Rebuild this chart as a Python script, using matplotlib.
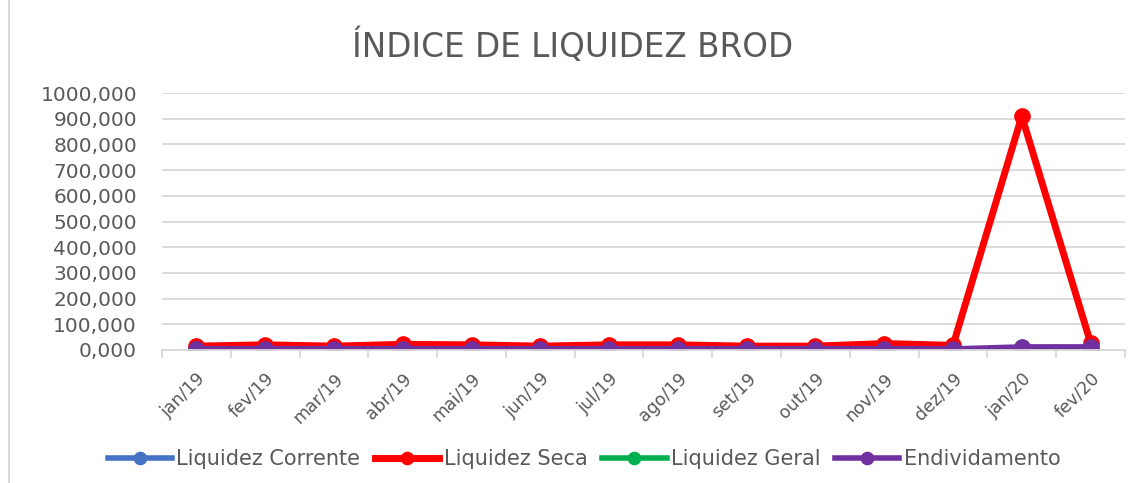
import numpy as np
import matplotlib.pyplot as plt
from matplotlib.ticker import FuncFormatter, FixedLocator

months = ['jan/19', 'fev/19', 'mar/19', 'abr/19', 'mai/19', 'jun/19', 'jul/19',
          'ago/19', 'set/19', 'out/19', 'nov/19', 'dez/19', 'jan/20', 'fev/20']
liq_corrente = [2, 2, 2, 2, 2, 2, 2, 2, 2, 2, 2, 2, 3, 3]
liq_seca = [15, 20, 15, 22, 20, 15, 20, 20, 15, 15, 25, 18, 910, 28]
liq_geral = [1, 1, 1, 1, 1, 1, 1, 1, 1, 1, 1, 1, 2, 2]
endividamento = [5, 5, 5, 5, 5, 5, 5, 5, 5, 5, 5, 4, 12, 12]

series = [
    ('Liquidez Corrente', liq_corrente, '#4472c4'),
    ('Liquidez Seca', liq_seca, '#ff0000'),
    ('Liquidez Geral', liq_geral, '#00b050'),
    ('Endividamento', endividamento, '#7030a0'),
]

plt.rcParams['font.family'] = ['DejaVu Sans']
fig = plt.figure(figsize=(11.45, 4.83), dpi=100)
ax = fig.add_axes([0.1415, 0.2754, 0.841, 0.532])

x = np.arange(len(months))
for name, vals, color in series:
    lw = 5 if name == 'Liquidez Seca' else 4
    ax.plot(x, vals, color=color, lw=lw, marker='o', markersize=11,
            solid_joinstyle='round', label=name)

ax.set_xlim(-0.5, len(months) - 0.5)
ax.set_ylim(0, 1000)
ax.set_yticks(np.arange(0, 1001, 100))
ax.yaxis.set_major_formatter(FuncFormatter(lambda v, p: f'{int(v)},000'))
ax.grid(axis='y', color='#d9d9d9', lw=1.3)
ax.set_axisbelow(True)

ax.set_xticks(x)
ax.set_xticklabels(months, rotation=45, ha='right', rotation_mode='anchor')
ax.xaxis.set_minor_locator(FixedLocator(np.arange(-0.5, len(months), 1)))
ax.tick_params(axis='x', which='major', length=0, pad=14, labelsize=12.5, colors='#595959')
ax.tick_params(axis='x', which='minor', length=6, color='#d9d9d9', width=1.3)
ax.tick_params(axis='y', length=0, labelsize=14.5, colors='#595959', pad=18)

for s in ['top', 'right', 'left']:
    ax.spines[s].set_visible(False)
ax.spines['bottom'].set_color('#d9d9d9')
ax.spines['bottom'].set_linewidth(1.3)

fig.suptitle('ÍNDICE DE LIQUIDEZ BROD', y=0.94, fontsize=23.5, color='#595959')

fig.legend(loc='center', bbox_to_anchor=(0.51, 0.05), ncol=4, frameon=False,
           fontsize=15, handlelength=3.1, handletextpad=0.2, columnspacing=0.7,
           markerscale=0.8, labelcolor='#595959')

fig.add_artist(plt.Line2D([0.008, 0.008], [0, 1], color='#d9d9d9', lw=1.5,
                          transform=fig.transFigure))

fig.savefig('out.png', dpi=100)
